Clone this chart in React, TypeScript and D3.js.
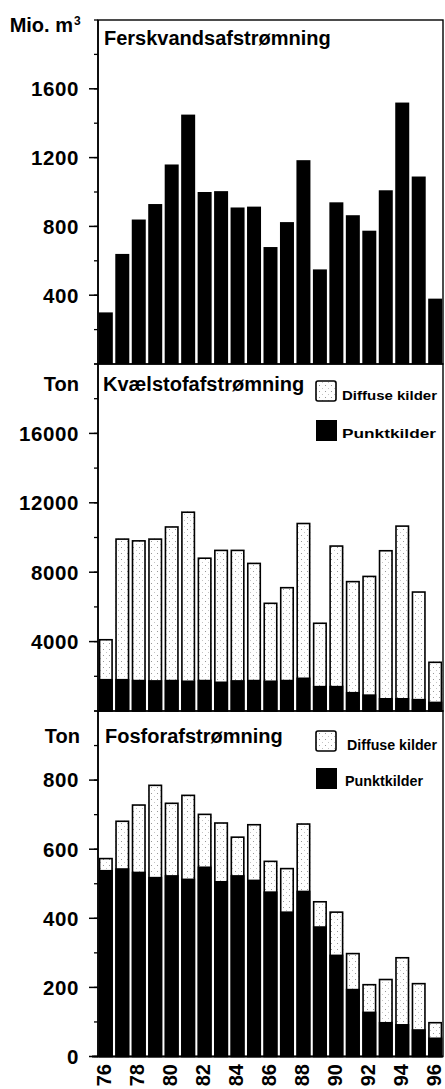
import React from 'react';
import * as d3 from 'd3';

const years = ['76','77','78','79','80','81','82','83','84','85','86','87','88','89','90','91','92','93','94','95','96'];
const yearLabels = ['76','78','80','82','84','86','88','90','92','94','96'];

const freshwater = [300, 640, 840, 930, 1160, 1450, 1000, 1005, 910, 915, 680, 825, 1185, 550, 940, 865, 775, 1010, 1520, 1090, 380];

const nitrogenPoint = [1850, 1850, 1800, 1780, 1800, 1760, 1800, 1700, 1780, 1800, 1760, 1800, 1930, 1450, 1450, 1100, 960, 750, 750, 700, 540];
const nitrogenDiffuse = [2300, 8100, 8050, 8170, 8850, 9740, 7050, 7600, 7520, 6750, 4490, 5350, 8920, 3650, 8100, 6400, 6840, 8530, 9950, 6200, 2310];

const phosphorusPoint = [540, 545, 535, 520, 525, 515, 550, 508, 525, 512, 478, 420, 480, 377, 295, 196, 130, 100, 94, 79, 55];
const phosphorusDiffuse = [35, 138, 195, 267, 210, 243, 153, 170, 112, 161, 89, 126, 195, 73, 125, 104, 80, 125, 194, 134, 45];

const freshTicks = [400, 800, 1200, 1600];
const nitrogenTicks = [4000, 8000, 12000, 16000];
const phosphorusTicks = [0, 200, 400, 600, 800];

const FONT = '"Liberation Sans", Arial, Helvetica, sans-serif';

const x = d3.scaleBand<string>().domain(years).range([98, 443]).paddingInner(0.15).paddingOuter(0.05);

type PanelProps = {
  y: d3.ScaleLinear<number, number>;
  majorTicks: number[];
  minorStep: number;
  max: number;
};

function LeftAxis({ y, majorTicks, minorStep, max }: PanelProps) {
  const minors = d3.range(0, max + 0.001, minorStep);
  return (
    <g>
      <line x1={98} x2={98} y1={y(max)} y2={y(0)} stroke="#000" strokeWidth={1.6} />
      {minors.map((v) => (
        <line key={'m' + v} x1={94} x2={98} y1={y(v)} y2={y(v)} stroke="#000" strokeWidth={1.3} />
      ))}
      {majorTicks.map((v) => (
        <g key={'t' + v}>
          <line x1={89} x2={98} y1={y(v)} y2={y(v)} stroke="#000" strokeWidth={1.5} />
          <text x={79} y={y(v)} dy="0.36em" textAnchor="end" fontFamily={FONT} fontWeight="bold" fontSize={20.5} letterSpacing={0.6}>
            {v}
          </text>
        </g>
      ))}
    </g>
  );
}

function Legend({ x0, yDiff, yPunkt, tx, tx2, font, lenD, lenP }: { x0: number; yDiff: number; yPunkt: number; tx: number; tx2: number; font: number; lenD: number; lenP: number }) {
  return (
    <g fontFamily={FONT} fontWeight="bold" fontSize={font}>
      <rect x={x0} y={yDiff} width={20} height={20} fill="url(#dots)" stroke="#000" strokeWidth={1.6} rx={2} />
      <text x={tx} y={yDiff + 19} textLength={lenD} lengthAdjust="spacingAndGlyphs">Diffuse kilder</text>
      <rect x={x0} y={yPunkt} width={21} height={21} fill="#000" />
      <text x={tx2} y={yPunkt + 18} textLength={lenP} lengthAdjust="spacingAndGlyphs">Punktkilder</text>
    </g>
  );
}

export default function App() {
  const y1 = d3.scaleLinear().domain([0, 2000]).range([364, 20]);
  const y2 = d3.scaleLinear().domain([0, 20000]).range([711, 364]);
  const y3 = d3.scaleLinear().domain([0, 1000]).range([1056.5, 711]);
  const bw = x.bandwidth();

  const stacked = (pt: number[], df: number[], y: d3.ScaleLinear<number, number>) =>
    years.map((yr, i) => {
      const x0 = x(yr)!;
      const p = pt[i];
      const t = pt[i] + df[i];
      return (
        <g key={yr}>
          <rect x={x0} y={y(t)} width={bw} height={y(p) - y(t)} fill="url(#dots)" />
          <rect x={x0} y={y(p)} width={bw} height={y(0) - y(p)} fill="#000" />
          <rect x={x0 + 0.75} y={y(t) + 0.75} width={bw - 1.5} height={y(0) - y(t) - 0.75} fill="none" stroke="#000" strokeWidth={1.6} />
        </g>
      );
    });

  return (
    <svg width={445} height={1089} style={{ position: 'absolute', left: 0, top: 0, background: '#fff' }}>
      <defs>
        <pattern id="dots" width={6} height={6} patternUnits="userSpaceOnUse">
          <rect width={6} height={6} fill="#fff" />
          <rect x={1} y={1} width={1} height={1} fill="#999" />
          <rect x={4} y={4} width={1} height={1} fill="#c4c4c4" />
        </pattern>
      </defs>

      {/* Panel 1 */}
      <rect x={98} y={20} width={345} height={344} fill="none" stroke="#000" strokeWidth={1.4} />
      {years.map((yr, i) => (
        <rect key={yr} x={x(yr)!} y={y1(freshwater[i])} width={bw} height={y1(0) - y1(freshwater[i])} fill="#000" />
      ))}
      <LeftAxis y={y1} majorTicks={freshTicks} minorStep={200} max={2000} />
      <text x={104} y={45} fontFamily={FONT} fontWeight="bold" fontSize={20}>Ferskvandsafstrømning</text>
      <text x={73} y={32} textAnchor="end" fontFamily={FONT} fontWeight="bold" fontSize={20}>Mio. m</text>
      <text x={74} y={25} fontFamily={FONT} fontWeight="bold" fontSize={12}>3</text>

      {/* Panel 2 */}
      <rect x={98} y={364} width={345} height={347} fill="none" stroke="#000" strokeWidth={1.4} />
      {stacked(nitrogenPoint, nitrogenDiffuse, y2)}
      <LeftAxis y={y2} majorTicks={nitrogenTicks} minorStep={2000} max={20000} />
      <text x={103} y={391} fontFamily={FONT} fontWeight="bold" fontSize={20}>Kvælstofafstrømning</text>
      <text x={79} y={391} textAnchor="end" fontFamily={FONT} fontWeight="bold" fontSize={20}>Ton</text>
      <Legend x0={316} yDiff={381} yPunkt={420} tx={342} tx2={342} font={13.5} lenD={95} lenP={94} />

      {/* Panel 3 */}
      <rect x={98} y={711} width={345} height={345.5} fill="none" stroke="#000" strokeWidth={1.4} />
      {stacked(phosphorusPoint, phosphorusDiffuse, y3)}
      <LeftAxis y={y3} majorTicks={phosphorusTicks} minorStep={100} max={1000} />
      <line x1={92} x2={443} y1={y3(0)} y2={y3(0)} stroke="#000" strokeWidth={2} />
      <text x={105} y={743} fontFamily={FONT} fontWeight="bold" fontSize={20}>Fosforafstrømning</text>
      <text x={80} y={743} textAnchor="end" fontFamily={FONT} fontWeight="bold" fontSize={20}>Ton</text>
      <Legend x0={316} yDiff={731} yPunkt={768} tx={347} tx2={345} font={14} lenD={90} lenP={78} />

      {/* X labels */}
      {yearLabels.map((yr) => {
        const cx = x(yr)! + bw / 2;
        return (
          <text key={yr} transform={`translate(${cx + 5.5},1064) rotate(-90)`} textAnchor="end" fontFamily={FONT} fontWeight="bold" fontSize={20}>
            {yr}
          </text>
        );
      })}
    </svg>
  );
}
